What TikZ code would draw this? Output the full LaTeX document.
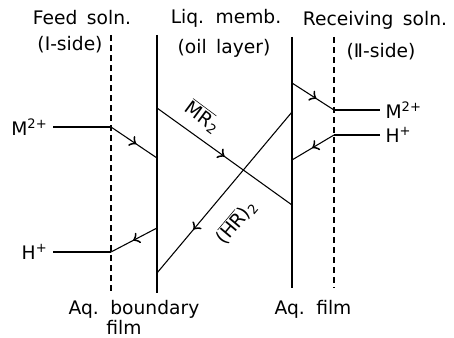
\documentclass[tikz,border=0pt]{standalone}
\usepackage{fontspec}
\setmainfont{DejaVu Sans}[WordSpace=1.6]
\usetikzlibrary{decorations.markings}

\tikzset{
  wall/.style={line width=0.9pt},
  film/.style={line width=0.9pt,dash pattern=on 4.5pt off 3pt},
  flow/.style={line width=0.8pt,postaction={decorate},
    decoration={markings,mark=at position #1 with {\arrow[scale=1.8]{to}}}},
  lbl/.style={inner sep=0pt}
}

\begin{document}
\begin{tikzpicture}[x=0.75pt,y=-0.75pt,font=\fontsize{14}{16}\selectfont]
\useasboundingbox (0,0) rectangle (454,338);

% films and membrane walls
\draw[film] (111,35) -- (111,293);
\draw[wall] (157,35) -- (157,293);
\draw[wall] (292,37) -- (292,288);
\draw[film] (334,37) -- (334,288);

% headings
\node[lbl] (feed) at (82,18) {Feed soln.};
\node[lbl] (feedb) at (70,45) {(Ⅰ-side)};
\node[lbl] (memb) at (226,18) {Liq. memb.};
\node[lbl] (membb) at (224,48) {(oil layer)};
\node[lbl] (recv) at (375,20) {Receiving soln.};
\node[lbl] (recvb) at (381,52) {(Ⅱ-side)};
\node[lbl] (aqb) at (134,309) {Aq. boundary};
\node[lbl] (aqbb) at (124,327) {film};
\node[lbl] (aqf) at (313,309) {Aq. film};

% species
\node[anchor=east,inner sep=4pt] (mL) at (53,127) {M\textsuperscript{2+}};
\node[anchor=east,inner sep=4pt] (hL) at (53,252) {H\textsuperscript{+}};
\node[anchor=west,inner sep=4pt] (mR) at (380,110) {M\textsuperscript{2+}};
\node[anchor=west,inner sep=4pt] (hR) at (380,135) {H\textsuperscript{+}};

\coordinate (mA) at (111,127);
\coordinate (mB) at (157,158);
\coordinate (mr1) at (157,108);
\coordinate (mr2) at (292,205);
\coordinate (mr3) at (292,83);
\coordinate (mC) at (334,110);
\coordinate (hA) at (334,135);
\coordinate (hB) at (292,160);
\coordinate (hr1) at (292,112);
\coordinate (hr2) at (157,273);
\coordinate (hC) at (157,228);
\coordinate (hD) at (111,252);

% metal transport
\draw[wall] (mL.east) -- (mA);
\draw[flow=0.55] (mA) -- (mB);
\draw[flow=0.5] (mr1) -- (mr2);
\draw[flow=0.58] (mr3) -- (mC);
\draw[wall] (mC) -- (mR.west);

% proton transport
\draw[wall] (hR.west) -- (hA);
\draw[flow=0.52] (hA) -- (hB);
\draw[flow=0.73] (hr1) -- (hr2);
\draw[flow=0.52] (hC) -- (hD);
\draw[wall] (hD) -- (hL.east);

\node[rotate=-36.7,inner sep=1pt] (mrl) at (203,117) {$\overline{\hbox{MR}}$\textsubscript{2}};
\node[rotate=49.8,inner sep=1pt] (hrl) at (236,222) {($\overline{\hbox{HR}}$)\textsubscript{2}};
\end{tikzpicture}
\end{document}
